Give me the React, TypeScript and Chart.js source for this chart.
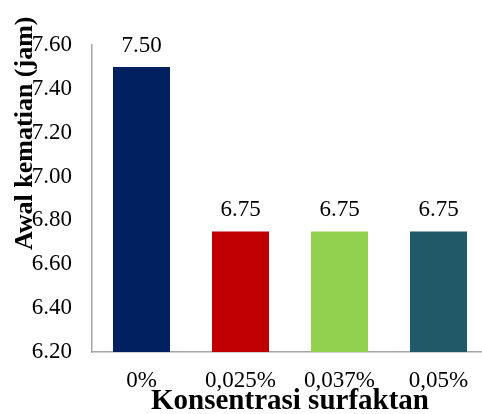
import React, { useEffect, useRef } from 'react';
import { Chart, registerables } from 'chart.js';

Chart.register(...registerables);

const categories = ['0%', '0,025%', '0,037%', '0,05%'];
const values = [7.5, 6.75, 6.75, 6.75];
const barColors = ['#002060', '#C00000', '#92D050', '#215968'];
const yMin = 6.2;
const yMax = 7.6;
const yStep = 0.2;
const xTitle = 'Konsentrasi surfaktan';
const yTitle = 'Awal kematian (jam)';

const FONT = '"Liberation Serif", "Times New Roman", Times, serif';

const valueLabelPlugin = {
  id: 'valueLabels',
  afterDatasetsDraw(chart: any) {
    const ctx = chart.ctx;
    const meta = chart.getDatasetMeta(0);
    ctx.save();
    ctx.font = `23px ${FONT}`;
    ctx.fillStyle = '#000';
    ctx.textAlign = 'center';
    ctx.textBaseline = 'alphabetic';
    meta.data.forEach((bar: any, i: number) => {
      ctx.fillText(values[i].toFixed(2), bar.x, bar.y - 15);
    });
    ctx.restore();
  },
};

const yTitlePlugin = {
  id: 'yTitleOverlay',
  afterDraw(chart: any) {
    const ctx = chart.ctx;
    const area = chart.chartArea;
    ctx.save();
    ctx.font = `bold 26px ${FONT}`;
    ctx.fillStyle = '#000';
    ctx.textAlign = 'left';
    ctx.textBaseline = 'alphabetic';
    ctx.translate(area.left - 60, area.bottom - 102);
    ctx.rotate(-Math.PI / 2);
    ctx.fillText(yTitle, 0, 0);
    ctx.restore();
  },
};

export default function App() {
  const canvasRef = useRef<HTMLCanvasElement | null>(null);

  useEffect(() => {
    if (!canvasRef.current) return;
    const chart = new Chart(canvasRef.current, {
      type: 'bar',
      data: {
        labels: categories,
        datasets: [
          {
            data: values,
            backgroundColor: barColors,
            borderWidth: 0,
            barPercentage: 0.576,
            categoryPercentage: 1,
          },
        ],
      },
      options: {
        responsive: false,
        animation: false,
        devicePixelRatio: 1,
        layout: { padding: { left: 0, right: 2, top: 45, bottom: 0 } },
        plugins: {
          legend: { display: false },
          tooltip: { enabled: false },
        },
        scales: {
          x: {
            grid: { display: false, drawTicks: false },
            border: { display: true, color: '#a6a6a6', width: 1.5 },
            ticks: {
              color: '#000',
              padding: 15,
              font: { family: FONT, size: 23 },
            },
            title: {
              display: true,
              text: xTitle,
              color: '#000',
              font: { family: FONT, size: 29, weight: 'bold', lineHeight: 1 },
              padding: { top: 0, bottom: -2 },
            },
            afterFit(scale: any) {
              scale.height = 62;
            },
          },
          y: {
            min: yMin,
            max: yMax,
            grid: { display: false, drawTicks: false },
            border: { display: true, color: '#a6a6a6', width: 1.5 },
            ticks: {
              stepSize: yStep,
              color: '#000',
              padding: 20,
              font: { family: FONT, size: 23 },
              callback: (v: any) => Number(v).toFixed(2),
            },
            afterFit(scale: any) {
              scale.width = 92;
            },
          },
        },
      },
      plugins: [valueLabelPlugin, yTitlePlugin],
    });
    return () => chart.destroy();
  }, []);

  return (
    <div
      style={{
        position: 'fixed',
        left: 0,
        top: 0,
        width: 482,
        height: 414,
        overflow: 'hidden',
        background: '#fff',
      }}
    >
      <canvas
        ref={canvasRef}
        width={490}
        height={414}
        style={{ width: 490, height: 414, display: 'block' }}
      />
    </div>
  );
}
